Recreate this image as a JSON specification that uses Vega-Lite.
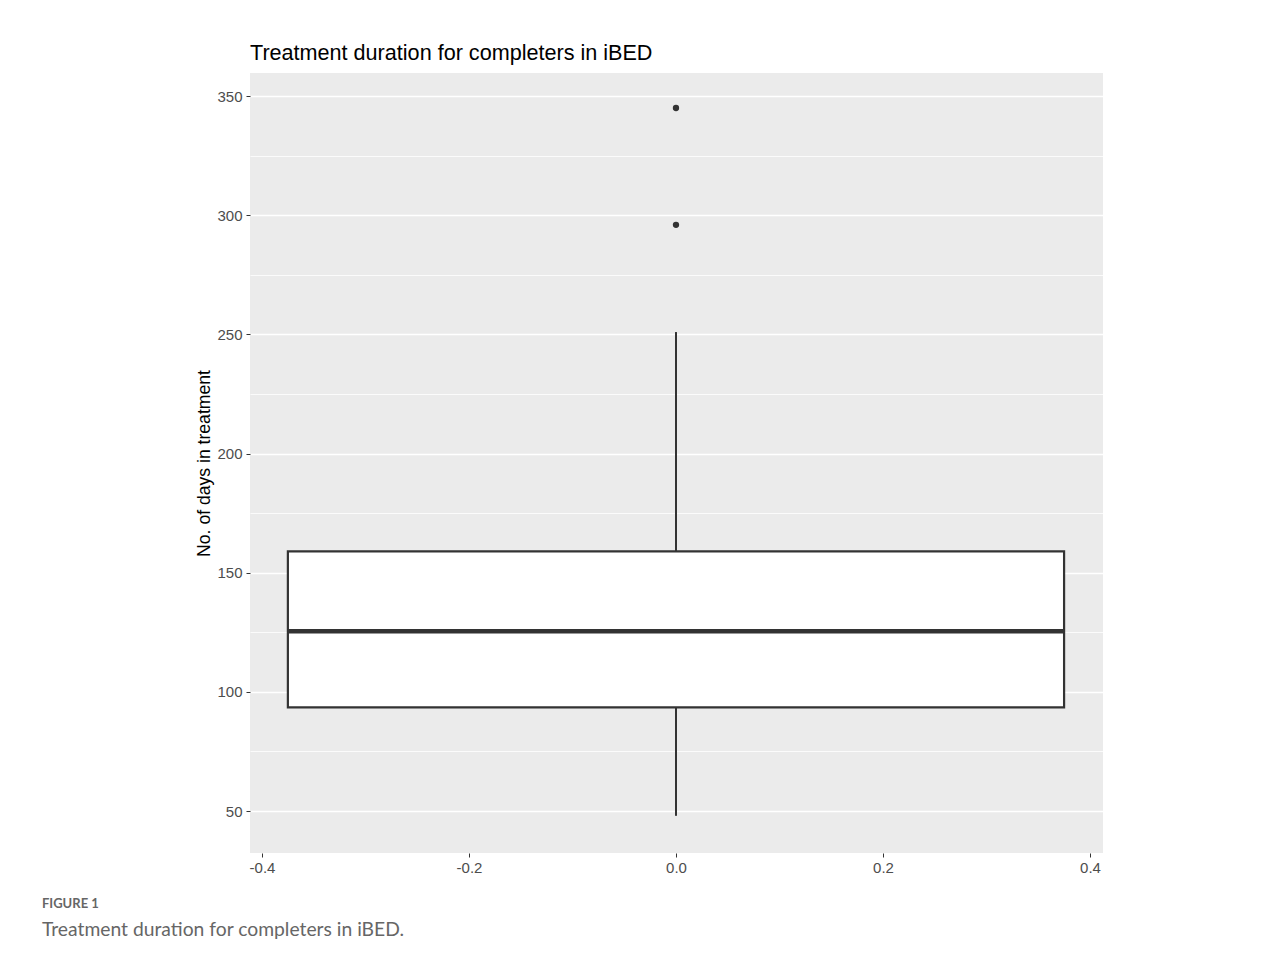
{
  "$schema": "https://vega.github.io/schema/vega-lite/v6.json",
  "background": "white",
  "padding": {"left": 41, "top": 43, "right": 20, "bottom": 10},
  "config": {
    "font": "Liberation Sans",
    "view": {"fill": "#EBEBEB", "stroke": null}
  },
  "title": {
    "text": "FIGURE 1",
    "subtitle": "Treatment duration for completers in iBED.",
    "orient": "bottom",
    "anchor": "start",
    "frame": "bounds",
    "dx": -154,
    "offset": 23,
    "font": "Lato",
    "fontSize": 13,
    "fontWeight": "bold",
    "color": "#666666",
    "subtitleFont": "Lato",
    "subtitleFontSize": 19.3,
    "subtitleColor": "#666666",
    "subtitlePadding": 10
  },
  "datasets": {
    "summary": [
      {"group": "iBED", "lower": 48, "q1": 93.5, "median": 125.5, "q3": 159, "upper": 251}
    ],
    "outliers": [
      {"group": "iBED", "days": 345},
      {"group": "iBED", "days": 296}
    ]
  },
  "vconcat": [
    {
      "width": 853,
      "height": 780,
      "title": {
        "text": "Treatment duration for completers in iBED",
        "anchor": "start",
        "frame": "group",
        "fontSize": 21.6,
        "fontWeight": "normal",
        "color": "#000000",
        "font": "Liberation Sans",
        "offset": 8
      },
      "layer": [
        {
          "data": {"name": "summary"},
          "mark": {"type": "rule", "color": "#333333", "strokeWidth": 2},
          "encoding": {
            "x": {
              "datum": 0,
              "type": "quantitative",
              "scale": {"domain": [-0.4116, 0.4126], "nice": false, "zero": false},
              "axis": {
                "values": [-0.4, -0.3, -0.2, -0.1, 0, 0.1, 0.2, 0.3, 0.4],
                "labelExpr": "round(datum.value*10) % 2 != 0 ? '' : replace(format(datum.value, '.1f'), '\u2212', '-')",
                "gridColor": "#FFFFFF",
                "gridWidth": {"condition": {"test": "round(datum.value*10) % 2 != 0", "value": 0.8}, "value": 1.6},
                "tickOpacity": {"condition": {"test": "round(datum.value*10) % 2 != 0", "value": 0}, "value": 1},
                "tickColor": "#333333",
                "tickSize": 4,
                "domain": false,
                "labelColor": "#4D4D4D",
                "labelFontSize": 15,
                "labelPadding": 3,
                "title": null
              }
            },
            "y": {
              "field": "lower",
              "type": "quantitative",
              "scale": {"domain": [32.4, 359.7], "nice": false, "zero": false},
              "axis": {
                "values": [50, 75, 100, 125, 150, 175, 200, 225, 250, 275, 300, 325, 350],
                "labelExpr": "datum.value % 50 == 0 ? datum.label : ''",
                "gridColor": "#FFFFFF",
                "gridWidth": {"condition": {"test": "datum.value % 50 != 0", "value": 0.8}, "value": 1.6},
                "tickOpacity": {"condition": {"test": "datum.value % 50 != 0", "value": 0}, "value": 1},
                "tickColor": "#333333",
                "tickSize": 4,
                "domain": false,
                "labelColor": "#4D4D4D",
                "labelFontSize": 15,
                "labelPadding": 4,
                "title": "No. of days in treatment",
                "titleFontSize": 17.6,
                "titleFontWeight": "normal",
                "titleColor": "#000000",
                "titlePadding": 3
              }
            },
            "y2": {"field": "q1"}
          }
        },
        {
          "data": {"name": "summary"},
          "mark": {"type": "rule", "color": "#333333", "strokeWidth": 2},
          "encoding": {
            "x": {"datum": 0, "type": "quantitative"},
            "y": {"field": "q3", "type": "quantitative"},
            "y2": {"field": "upper"}
          }
        },
        {
          "data": {"name": "summary"},
          "mark": {"type": "rect", "fill": "#FFFFFF", "stroke": "#333333", "strokeWidth": 2.2},
          "encoding": {
            "x": {"datum": -0.375, "type": "quantitative"},
            "x2": {"datum": 0.375},
            "y": {"field": "q1", "type": "quantitative"},
            "y2": {"field": "q3"}
          }
        },
        {
          "data": {"name": "summary"},
          "mark": {"type": "rule", "color": "#333333", "strokeWidth": 4.5},
          "encoding": {
            "x": {"datum": -0.375, "type": "quantitative"},
            "x2": {"datum": 0.375},
            "y": {"field": "median", "type": "quantitative"}
          }
        },
        {
          "data": {"name": "outliers"},
          "mark": {"type": "point", "shape": "circle", "filled": true, "color": "#333333", "opacity": 1, "size": 40},
          "encoding": {
            "x": {"datum": 0, "type": "quantitative"},
            "y": {"field": "days", "type": "quantitative"}
          }
        }
      ]
    }
  ]
}
